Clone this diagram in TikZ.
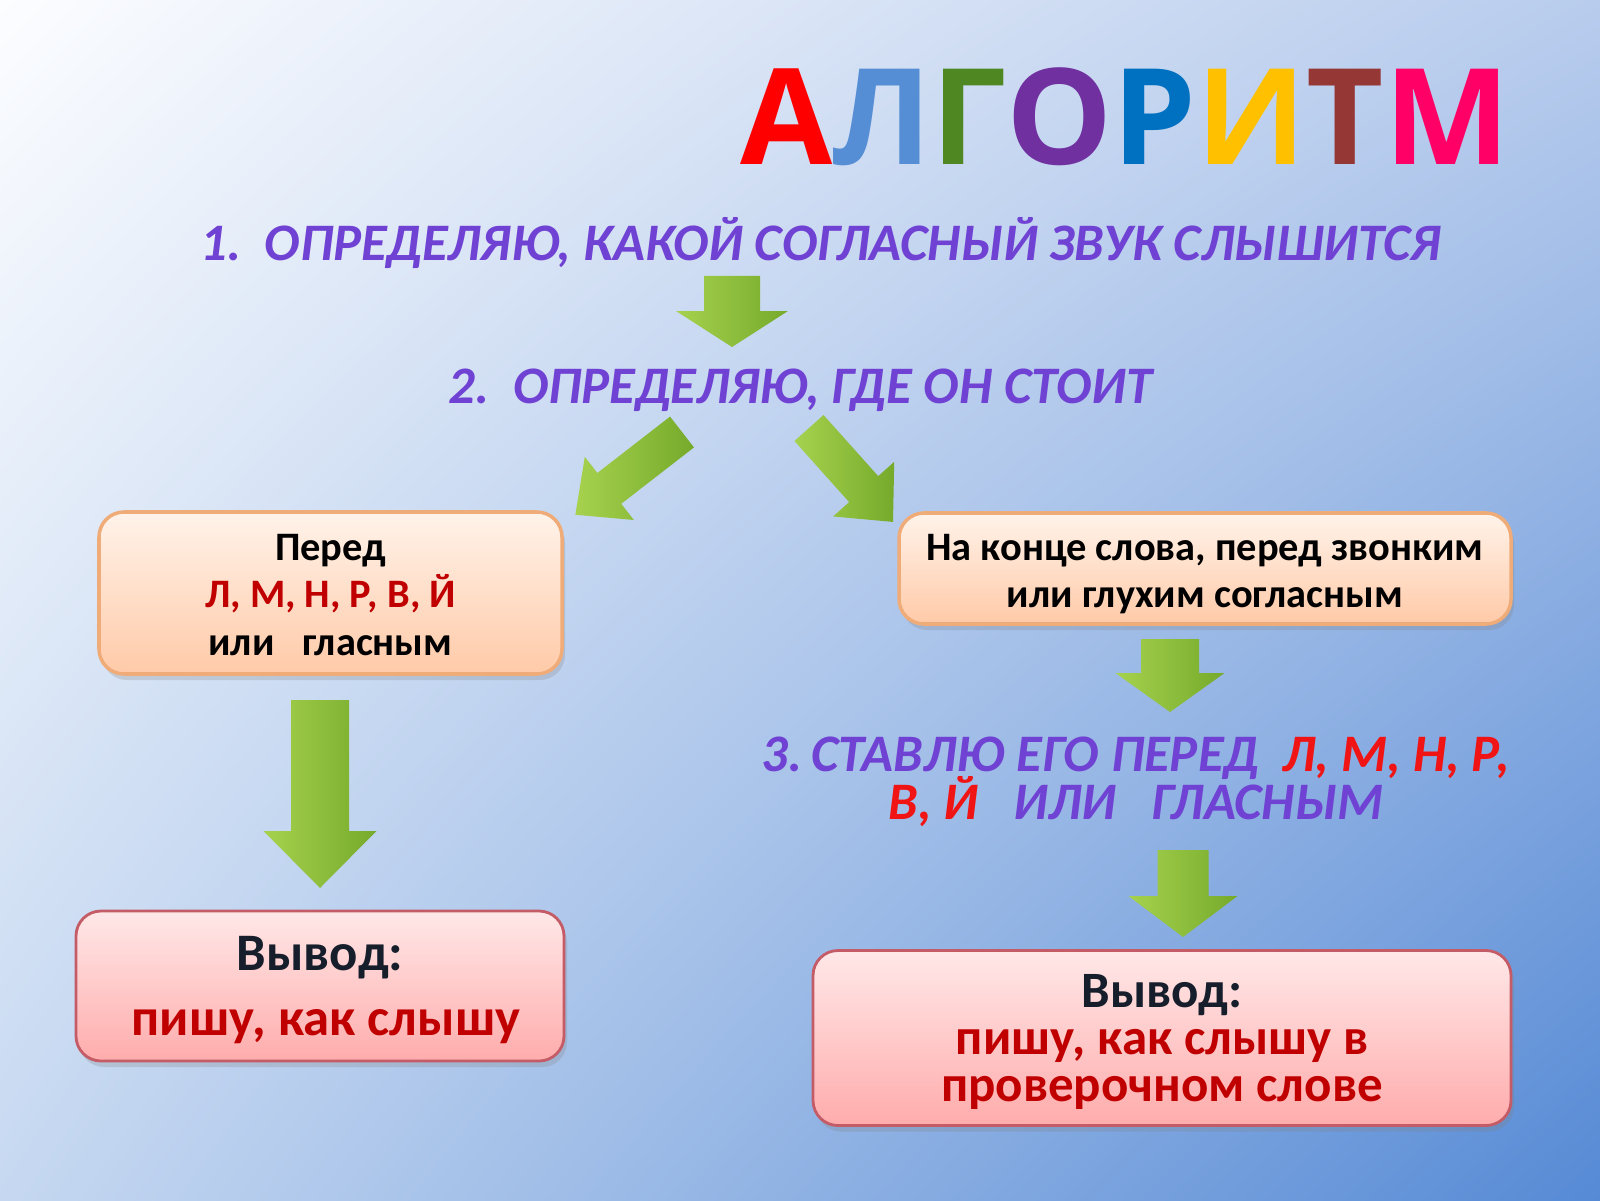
\documentclass[tikz,border=0pt]{standalone}
\usepackage{fontspec}
\setmainfont{Carlito}
\newfontfamily\titlefont{Open Sans}
\usetikzlibrary{shadows,shadings}

\definecolor{bgul}{RGB}{252,253,255}
\definecolor{bgur}{RGB}{184,204,237}
\definecolor{bgll}{RGB}{198,216,241}
\definecolor{bglr}{RGB}{86,138,213}
\definecolor{hdpurple}{RGB}{112,66,212}
\definecolor{hdred}{RGB}{240,20,20}
\definecolor{dkred}{RGB}{192,0,0}
\definecolor{outdark}{RGB}{22,30,44}
\definecolor{casetop}{RGB}{255,243,234}
\definecolor{casebot}{RGB}{255,202,168}
\definecolor{caseborder}{RGB}{240,172,120}
\definecolor{outtop}{RGB}{255,232,232}
\definecolor{outbot}{RGB}{255,172,172}
\definecolor{outborder}{RGB}{196,92,104}
\definecolor{arrowlight}{RGB}{166,210,78}
\definecolor{arrowdark}{RGB}{118,170,43}
\definecolor{tA}{RGB}{255,0,0}
\definecolor{tL}{RGB}{85,142,213}
\definecolor{tG}{RGB}{79,136,34}
\definecolor{tO}{RGB}{112,48,160}
\definecolor{tR}{RGB}{0,112,192}
\definecolor{tI}{RGB}{255,192,0}
\definecolor{tT}{RGB}{149,55,53}
\definecolor{tM}{RGB}{255,0,102}

\newcommand{\tightlines}{\lineskiplimit=-\maxdimen}

% tail point, angle, length, shaft width, head width, head length
\newcommand{\greenarrow}[6]{%
  \begin{scope}[shift={#1},rotate=#2]
    \shade[arrowfill] (0,-#4/2) -- ({#3-#6},-#4/2) -- ({#3-#6},-#5/2) -- (#3,0)
      -- ({#3-#6},#5/2) -- ({#3-#6},#4/2) -- (0,#4/2) -- cycle;
  \end{scope}}

\tikzset{
  stepline/.style={font=\bfseries\itshape\fontsize{15}{18}\selectfont, text=hdpurple, inner sep=0pt},
  casebox/.style={draw=caseborder, line width=1pt, rounded corners=0.25cm,
    top color=casetop, bottom color=casebot,
    drop shadow={opacity=0.25, shadow xshift=0.03cm, shadow yshift=-0.06cm},
    align=center, inner sep=0pt, font=\bfseries\fontsize{11.5}{13.5}\selectfont},
  outbox/.style={draw=outborder, line width=0.8pt, rounded corners=0.25cm,
    top color=outtop, bottom color=outbot,
    drop shadow={opacity=0.25, shadow xshift=0.03cm, shadow yshift=-0.06cm},
    align=center, inner sep=0pt, text=dkred},
  arrowfill/.style={left color=arrowlight, right color=arrowdark}
}

\begin{document}
\begin{tikzpicture}
\useasboundingbox (0,0) rectangle (16,12);
\shade[upper left=bgul, upper right=bgur, lower left=bgll, lower right=bglr] (0,0) rectangle (16,12);

% title
\node[anchor=base, inner sep=0pt, font=\titlefont\bfseries\fontsize{38}{40}\selectfont] (title) at (11.25,10.35)
  {\textcolor{tA}{А}\textcolor{tL}{Л}\textcolor{tG}{Г}\textcolor{tO}{О}\textcolor{tR}{Р}\textcolor{tI}{И}\textcolor{tT}{Т}\textcolor{tM}{М}};

% steps
\node[stepline, anchor=base] (step1) at (8.205,9.39) {1.\ \ ОПРЕДЕЛЯЮ, КАКОЙ СОГЛАСНЫЙ ЗВУК СЛЫШИТСЯ};
\node[stepline, anchor=base] (step2) at (8.005,7.97) {2.\ \ ОПРЕДЕЛЯЮ, ГДЕ ОН СТОИТ};
\node[stepline, align=center, font=\bfseries\itshape\fontsize{15}{13.6}\selectfont\tightlines] (step3) at (11.36,4.18)
  {3.\,СТАВЛЮ ЕГО ПЕРЕД\ \ \textcolor{hdred}{Л, М, Н, Р,}\\\textcolor{hdred}{В, Й}\ \ \ ИЛИ\ \ \ ГЛАСНЫМ};

% cases
\node[casebox, minimum width=4.63cm, minimum height=1.62cm] (before) at (3.305,6.07)
  {\rule{0pt}{8.6pt}Перед\\\textcolor{dkred}{Л, М, Н, Р, В, Й}\\или\ \ \ гласным};
\node[casebox, minimum width=6.12cm, minimum height=1.11cm] (atend) at (12.05,6.315)
  {\rule{0pt}{10.6pt}На конце слова, перед звонким\\или глухим согласным};

% conclusions
\node[outbox, minimum width=4.88cm, minimum height=1.50cm, font=\bfseries\fontsize{15}{18.5}\selectfont] (outleft) at (3.20,2.14)
  {\rule{0pt}{11.8pt}\textcolor{outdark}{Вывод:}\\\ пишу, как слышу};
\node[outbox, minimum width=6.98cm, minimum height=1.75cm, font=\bfseries\fontsize{14.5}{13.4}\selectfont\tightlines] (outright) at (11.62,1.62)
  {\rule{0pt}{11.6pt}\textcolor{outdark}{Вывод:}\\пишу, как слышу в\\проверочном слове};

% arrows
\greenarrow{(7.32,9.24)}{-90}{0.71}{0.56}{1.12}{0.36}
\greenarrow{(6.82,7.68)}{217.8}{1.35}{0.39}{0.80}{0.43}
\greenarrow{(8.09,7.72)}{-48.2}{1.26}{0.39}{0.82}{0.44}
\greenarrow{(3.20,5.00)}{-90}{1.88}{0.58}{1.13}{0.57}
\greenarrow{(11.70,5.61)}{-90}{0.73}{0.58}{1.09}{0.39}
\greenarrow{(11.83,3.50)}{-90}{0.87}{0.51}{1.09}{0.41}

\end{tikzpicture}
\end{document}
